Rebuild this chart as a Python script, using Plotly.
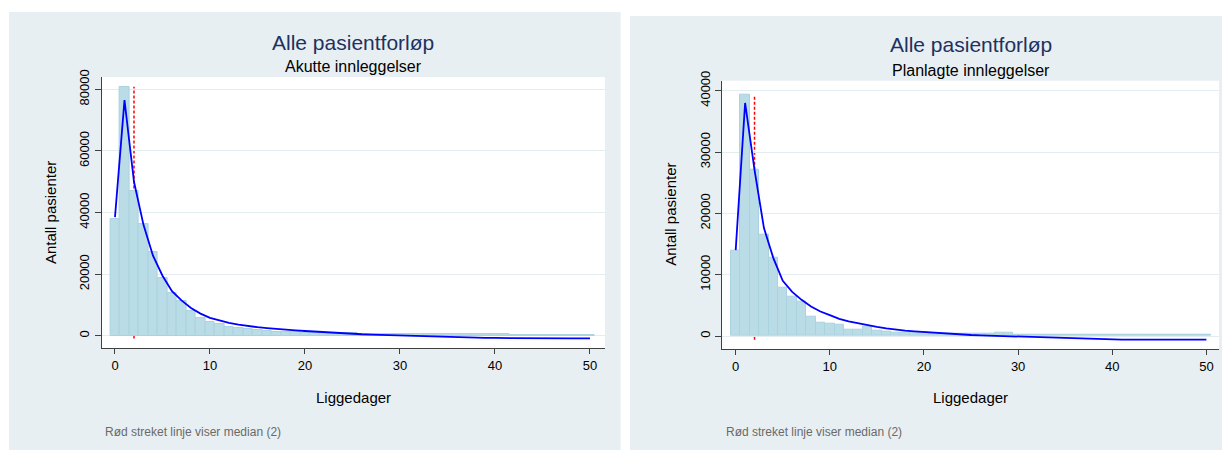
import plotly.graph_objects as go

W, H = 1222, 450

days = list(range(51))
median_days = 2
x_ticks = [0, 10, 20, 30, 40, 50]

akutt_yticks = [0, 20000, 40000, 60000, 80000]
plan_yticks = [0, 10000, 20000, 30000, 40000]

akutt_bars = [38000, 80800, 47000, 36300, 27200, 18600, 14000, 11400, 7900, 5700,
              4500, 3800, 3000, 2500, 2300, 1800, 1500, 1300, 1200, 1100,
              1000, 950, 900, 850, 800, 750, 700, 650, 620, 600,
              580, 560, 540, 520, 500, 490, 480, 470, 460, 450,
              440, 430, 420, 410, 400, 400, 390, 380, 380, 370, 370]
akutt_curve = [38500, 76500, 50000, 36000, 26000, 19500, 14500, 11500, 9000, 7200,
               5800, 4900, 4200, 3600, 3100, 2800, 2500, 2200, 2000, 1750,
               1550, 1350, 1150, 950, 800, 650, 500, 400, 300, 200,
               100, 0, -150, -250, -350, -450, -500, -550, -600, -650,
               -700, -750, -800, -850, -850, -850, -850, -850, -850, -850, -850]

plan_bars = [13900, 39300, 27100, 16500, 12800, 7800, 6400, 5600, 3200, 2100,
             2000, 1800, 1000, 1000, 1500, 900, 650, 550, 500, 500,
             480, 450, 430, 410, 400, 380, 370, 360, 520, 500,
             250, 240, 230, 230, 220, 220, 210, 210, 200, 200,
             190, 190, 180, 180, 170, 170, 160, 160, 150, 150, 150]
plan_curve = [14000, 38000, 27100, 17600, 12700, 9000, 7200, 5900, 4800, 4000,
              3400, 2800, 2400, 2100, 1700, 1500, 1250, 1000, 870, 760,
              650, 500, 400, 300, 230, 160, 100, 50, 0, -50,
              -100, -180, -240, -290, -330, -370, -420, -460, -500, -540,
              -570, -600, -600, -600, -600, -600, -600, -600, -600, -600, -600]

title_text = "Alle pasientforløp"
subtitles = ["Akutte innleggelser", "Planlagte innleggelser"]
x_title = "Liggedager"
y_title = "Antall pasienter"
note_text = "Rød streket linje viser median (2)"

FONT = "Liberation Sans, Arial, sans-serif"
PANEL = "#e8eff2"
BAR_FILL = "rgb(186,220,230)"
BAR_LINE = "rgb(170,210,223)"
GRID = "#e3edf0"
AXIS = "#404040"
TITLE_COL = "rgb(30,50,95)"


def px(x):
    return x / W


def py(y):
    return 1 - y / H


fig = go.Figure()

panels = [
    dict(bars=akutt_bars, curve=akutt_curve, yticks=akutt_yticks, xa="x", ya="y",
         plot=(101.6, 77, 605, 348), xrange=[-1.41, 51.58], yrange=[-3960, 84000],
         panel=(9, 12, 620.7, 450), dy=0, sub=subtitles[0]),
    dict(bars=plan_bars, curve=plan_curve, yticks=plan_yticks, xa="x2", ya="y2",
         plot=(722, 80.7, 1219, 349), xrange=[-1.455, 51.34], yrange=[-2120, 41630],
         panel=(630, 16, 1222, 450), dy=3, sub=subtitles[1]),
]

shapes = []
annotations = []

# panel backgrounds first, then white plot regions
for p in panels:
    x0, y0, x1, y1 = p["panel"]
    shapes.append(dict(type="rect", xref="paper", yref="paper", layer="below",
                       x0=px(x0), x1=px(x1), y0=py(y1), y1=py(y0),
                       fillcolor=PANEL, line=dict(width=0)))
for p in panels:
    l, t, r, b = p["plot"]
    shapes.append(dict(type="rect", xref="paper", yref="paper", layer="below",
                       x0=px(l), x1=px(r), y0=py(b), y1=py(t),
                       fillcolor="white", line=dict(width=0)))

for i, p in enumerate(panels):
    l, t, r, b = p["plot"]
    cx = (l + r) / 2
    fig.add_trace(go.Bar(x=days, y=p["bars"], width=1, xaxis=p["xa"], yaxis=p["ya"],
                         marker=dict(color=BAR_FILL, line=dict(color=BAR_LINE, width=1)),
                         showlegend=False, hoverinfo="skip"))
    fig.add_trace(go.Scatter(x=days, y=p["curve"], mode="lines", xaxis=p["xa"], yaxis=p["ya"],
                             line=dict(color="rgb(0,0,255)", width=1.8),
                             showlegend=False, hoverinfo="skip"))
    shapes.append(dict(type="line", xref=p["xa"], yref=p["ya"], layer="below",
                       x0=median_days, x1=median_days,
                       y0=min(p["curve"]), y1=max(p["bars"]),
                       line=dict(color="rgb(255,0,0)", width=1.5, dash="3px,2px")))

    dy = p["dy"]
    annotations += [
        dict(text=title_text, x=px(cx), y=py(42 + dy), xref="paper", yref="paper",
             showarrow=False, xanchor="center", yanchor="middle",
             font=dict(family=FONT, size=21, color=TITLE_COL)),
        dict(text=p["sub"], x=px(cx), y=py(67 + dy), xref="paper", yref="paper",
             showarrow=False, xanchor="center", yanchor="middle",
             font=dict(family=FONT, size=16, color="black")),
        dict(text=x_title, x=px(cx), y=py(397), xref="paper", yref="paper",
             showarrow=False, xanchor="center", yanchor="middle",
             font=dict(family=FONT, size=15, color="black")),
        dict(text=y_title, x=px(l - 51), y=py((t + b) / 2), xref="paper", yref="paper",
             showarrow=False, xanchor="center", yanchor="middle", textangle=-90,
             font=dict(family=FONT, size=15, color="black")),
        dict(text=note_text, x=px(l + 1.5), y=py(432), xref="paper", yref="paper",
             showarrow=False, xanchor="left", yanchor="middle",
             font=dict(family=FONT, size=12, color="#6a6a6a")),
    ]

layout = dict(
    width=W, height=H,
    autosize=False,
    margin=dict(l=0, r=0, t=0, b=0, pad=0, autoexpand=False),
    paper_bgcolor="white",
    plot_bgcolor="rgba(0,0,0,0)",
    bargap=0,
    showlegend=False,
    shapes=shapes,
    annotations=annotations,
    font=dict(family=FONT, size=13, color="black"),
)

for i, p in enumerate(panels):
    l, t, r, b = p["plot"]
    xk = "xaxis" if i == 0 else "xaxis2"
    yk = "yaxis" if i == 0 else "yaxis2"
    layout[xk] = dict(domain=[px(l), px(r)], range=p["xrange"], anchor=p["ya"],
                      automargin=False,
                      showgrid=False, zeroline=False, showline=True, linecolor=AXIS, linewidth=1,
                      ticks="outside", ticklen=5, tickcolor=AXIS, tickwidth=1,
                      tickmode="array", tickvals=x_ticks, ticktext=[str(v) for v in x_ticks],
                      tickfont=dict(family=FONT, size=13, color="black"), fixedrange=True)
    layout[yk] = dict(domain=[py(b), py(t)], range=p["yrange"], anchor=p["xa"],
                      automargin=False,
                      showgrid=True, gridcolor=GRID, gridwidth=1, zeroline=False,
                      showline=True, linecolor=AXIS, linewidth=1,
                      ticks="outside", ticklen=6, tickcolor=AXIS, tickwidth=1,
                      tickmode="array", tickvals=p["yticks"], ticktext=[str(v) for v in p["yticks"]],
                      tickangle=-90, tickfont=dict(family=FONT, size=13, color="black"),
                      fixedrange=True)

fig.update_layout(**layout)
fig.write_html("out.html", config={"displayModeBar": False})
